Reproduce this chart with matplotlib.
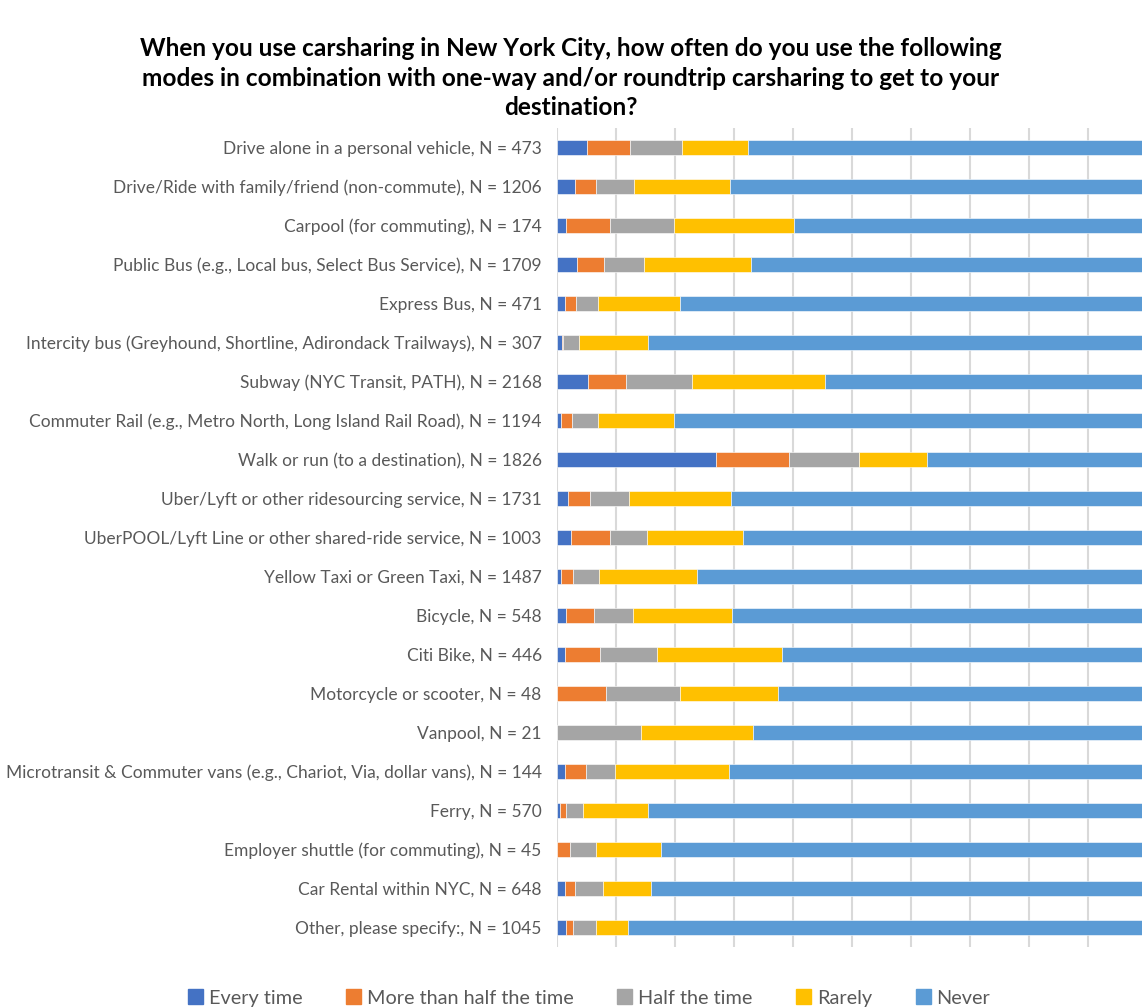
import numpy as np
import matplotlib
matplotlib.use("Agg")
import matplotlib.pyplot as plt
from matplotlib.patches import Patch

plt.rcParams["font.family"] = ["Lato", "DejaVu Sans"]

categories = [
    "Drive alone in a personal vehicle, N = 473",
    "Drive/Ride with family/friend (non-commute), N = 1206",
    "Carpool (for commuting), N = 174",
    "Public Bus (e.g., Local bus, Select Bus Service), N = 1709",
    "Express Bus, N = 471",
    "Intercity bus (Greyhound, Shortline, Adirondack Trailways), N = 307",
    "Subway (NYC Transit, PATH), N = 2168",
    "Commuter Rail (e.g., Metro North, Long Island Rail Road), N = 1194",
    "Walk or run (to a destination), N = 1826",
    "Uber/Lyft or other ridesourcing service, N = 1731",
    "UberPOOL/Lyft Line or other shared-ride service, N = 1003",
    "Yellow Taxi or Green Taxi, N = 1487",
    "Bicycle, N = 548",
    "Citi Bike, N = 446",
    "Motorcycle or scooter, N = 48",
    "Vanpool, N = 21",
    "Microtransit & Commuter vans (e.g., Chariot, Via, dollar vans), N = 144",
    "Ferry, N = 570",
    "Employer shuttle (for commuting), N = 45",
    "Car Rental within NYC, N = 648",
    "Other, please specify:, N = 1045",
]

series_names = ["Every time", "More than half the time", "Half the time", "Rarely", "Never"]
colors = ["#4472C4", "#ED7D31", "#A5A5A5", "#FFC000", "#5B9BD5"]

# percentages
every_time = [5.1, 3.1, 1.5, 3.4, 1.4, 0.8, 5.3, 0.7, 27.0, 1.8, 2.3,
              0.6, 1.6, 1.4, 0.0, 0.0, 1.4, 0.5, 0.0, 1.3, 1.5]
more_than_half = [7.3, 3.5, 7.5, 4.5, 1.9, 0.3, 6.4, 1.8, 12.4, 3.8, 6.6,
                  2.1, 4.6, 5.9, 8.3, 0.0, 3.5, 1.1, 2.2, 1.8, 1.2]
half_time = [8.8, 6.5, 10.9, 6.9, 3.6, 2.6, 11.2, 4.4, 11.8, 6.6, 6.3,
             4.4, 6.6, 9.7, 12.5, 14.3, 4.9, 2.8, 4.4, 4.7, 3.9]
rarely = [11.1, 16.3, 20.2, 18.1, 14.0, 11.8, 22.5, 13.0, 11.5, 17.3, 16.3,
          16.7, 16.8, 21.1, 16.7, 19.0, 19.4, 11.1, 11.1, 8.1, 5.5]
never = [67.6, 70.6, 59.8, 67.0, 79.0, 84.4, 54.6, 80.0, 37.2, 70.4, 68.4,
         76.1, 70.3, 61.9, 62.5, 66.7, 70.8, 84.5, 82.2, 84.0, 87.8]

data = np.array([every_time, more_than_half, half_time, rarely, never]) / 100.0

fig = plt.figure(figsize=(11.42, 10.08), dpi=100)
ax = fig.add_axes([557 / 1142, 61 / 1008, 590 / 1142, 819 / 1008])

y = np.arange(len(categories))
left = np.zeros(len(categories))
for vals, name, col in zip(data, series_names, colors):
    ax.barh(y, vals, left=left, height=0.4, color=col, label=name,
            edgecolor="white", linewidth=0.4, zorder=3)
    left += vals

ax.set_xlim(0, 1)
ax.set_ylim(len(categories) - 0.5, -0.5)
ax.set_xticks(np.arange(0, 1.01, 0.1))
ax.set_xticklabels([])
ax.tick_params(axis="x", length=0)
ax.grid(axis="x", color="#D9D9D9", linewidth=1.5, zorder=0)
for s in ax.spines.values():
    s.set_visible(False)

ax.set_yticks(y)
ax.set_yticklabels(categories, fontsize=12.5, color="#595959")
ax.tick_params(axis="y", length=0, pad=11)

fig.text(0.5, 1 - 78 / 1008,
         "When you use carsharing in New York City, how often do you use the following\n"
         "modes in combination with one-way and/or roundtrip carsharing to get to your\n"
         "destination?",
         ha="center", va="center", fontsize=17.6, fontweight="bold",
         linespacing=1.32, color="black")

handles = [Patch(color=c, label=n) for n, c in zip(series_names, colors)]
fig.legend(handles=handles, loc="center",
           bbox_to_anchor=(0.5 + 18 / 1142, 1 - 998 / 1008),
           ncol=5, frameon=False, fontsize=14.3, labelcolor="#595959",
           handlelength=0.75, handleheight=0.75, handletextpad=0.3,
           columnspacing=2.2)

fig.savefig("out.png", dpi=100)
